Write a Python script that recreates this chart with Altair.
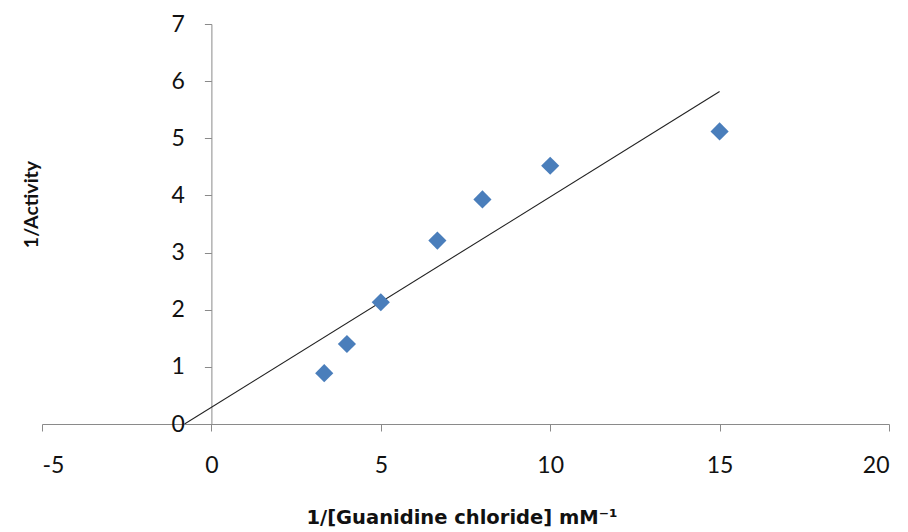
import altair as alt
import numpy as np
import pandas as pd

# Data
x_vals = [3.33, 4.0, 5.0, 6.67, 8.0, 10.0, 15.0]
y_vals = [0.89, 1.40, 2.13, 3.21, 3.93, 4.52, 5.12]
x_ticks = [-5, 0, 5, 10, 15, 20]
y_ticks = [0, 1, 2, 3, 4, 5, 6, 7]
x_domain = [-5, 20]
y_domain = [0, 7]

pts = pd.DataFrame({"x": x_vals, "y": y_vals})

# Linear trendline (least squares), drawn from where it meets y=0 to the last point
slope, intercept = np.polyfit(x_vals, y_vals, 1)
x_start = -intercept / slope
x_end = max(x_vals)
trend = pd.DataFrame({"x": [x_start, x_end],
                      "y": [slope * x_start + intercept, slope * x_end + intercept]})

W, H = 847, 400
PAD_L, PAD_T = 42, 24
AXIS_COLOR = "#8a8a8a"
FONT = "Lato"
MINUS_FIX = "replace(datum.label, '\u2212', '-')"

x_scale = alt.Scale(domain=x_domain, nice=False, zero=False)
y_scale = alt.Scale(domain=y_domain, nice=False)

y_offset = -W * (0 - x_domain[0]) / (x_domain[1] - x_domain[0])

x_axis = alt.Axis(values=x_ticks, format="d", labelExpr=MINUS_FIX, grid=False,
                  domainColor=AXIS_COLOR, tickColor=AXIS_COLOR,
                  tickSize=7, labelFontSize=23, labelFont=FONT, labelColor="#111111",
                  labelBaseline="middle", labelPadding=34,
                  title="1/[Guanidine chloride] mM\u207b\u00b9", titleFont="DejaVu Sans",
                  titleFontSize=19.5, titleFontWeight="bold", titleColor="#111111",
                  titleY=99, titleX=W / 2 - 4, titleBaseline="alphabetic")

y_axis = alt.Axis(values=y_ticks, format="d", grid=False,
                  domainColor=AXIS_COLOR, tickColor=AXIS_COLOR,
                  tickSize=7, labelFontSize=23, labelFont=FONT, labelColor="#111111",
                  labelPadding=20, offset=y_offset,
                  title="1/Activity", titleFont="Liberation Sans Narrow, Lato",
                  titleFontSize=19.5, titleFontWeight="bold", titleColor="#111111",
                  titleAngle=270, titleX=-174, titleY=180, titleBaseline="alphabetic")

points = alt.Chart(pts).mark_point(shape="diamond", filled=True, size=330,
                                   color="#4A7EBB", opacity=1).encode(
    x=alt.X("x:Q", scale=x_scale, axis=x_axis),
    y=alt.Y("y:Q", scale=y_scale, axis=y_axis),
)

line = alt.Chart(trend).mark_line(color="#222222", strokeWidth=1.1, clip=True).encode(
    x=alt.X("x:Q", scale=x_scale),
    y=alt.Y("y:Q", scale=y_scale),
)

chart = alt.layer(line, points).properties(
    width=W, height=H,
    autosize="none",
    padding={"left": PAD_L, "top": PAD_T, "right": 908 - PAD_L - W, "bottom": 532 - PAD_T - H},
    background="white",
).configure_view(stroke=None)

chart.save("out.html", embed_options={"renderer": "svg", "actions": False})
